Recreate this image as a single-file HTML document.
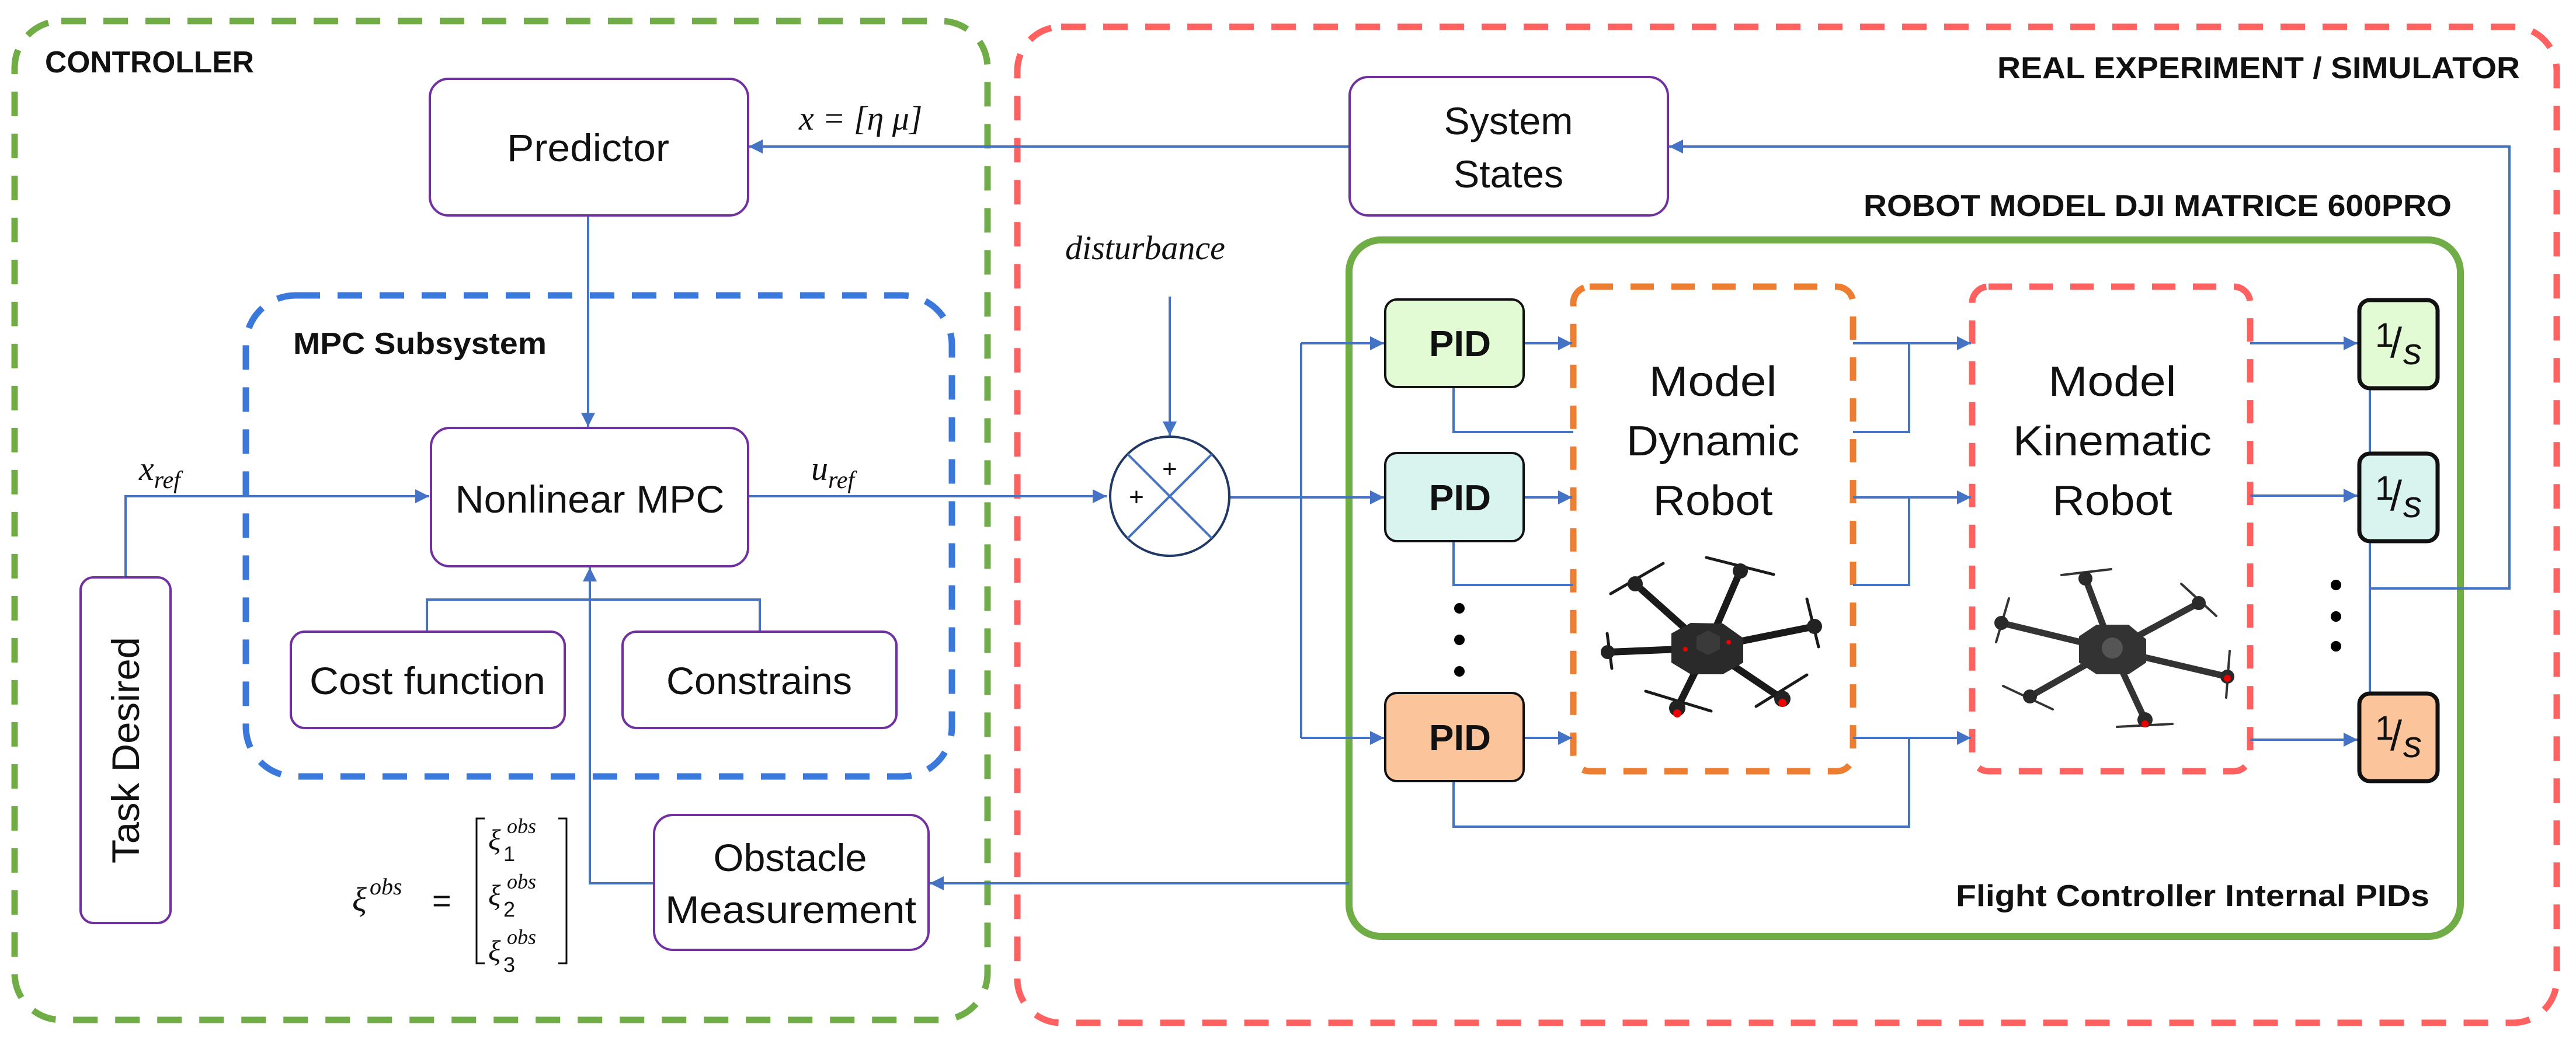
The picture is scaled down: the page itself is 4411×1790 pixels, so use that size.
<!DOCTYPE html>
<html><head><meta charset="utf-8"><style>
html,body{margin:0;padding:0;background:#fff;}
svg{display:block;}
text{font-family:"Liberation Sans",sans-serif;}
.m{font-family:"Liberation Serif",serif;font-style:italic;}
</style></head><body>
<svg width="4411" height="1790" viewBox="0 0 4411 1790" xmlns="http://www.w3.org/2000/svg">
<defs>
<marker id="b" viewBox="0 0 10 10" refX="10" refY="5" markerWidth="26" markerHeight="24" orient="auto" markerUnits="userSpaceOnUse"><path d="M0,0 L10,5 L0,10 z" fill="#4472c4"/></marker>
</defs>

<!-- big containers -->
<rect x="25" y="36" width="1666" height="1711" rx="80" fill="none" stroke="#70ad47" stroke-width="11" stroke-dasharray="42 30"/>
<rect x="1742" y="46" width="2636" height="1706" rx="75" fill="none" stroke="#ff6161" stroke-width="11" stroke-dasharray="42 30"/>
<rect x="2310" y="411" width="1903" height="1193" rx="55" fill="none" stroke="#70ad47" stroke-width="12"/>
<rect x="421" y="506" width="1209" height="824" rx="85" fill="none" stroke="#3b78dc" stroke-width="11" stroke-dasharray="42 30"/>
<rect x="2694" y="491" width="479" height="830" rx="28" fill="none" stroke="#ed7d31" stroke-width="11" stroke-dasharray="40 30"/>
<rect x="3377" y="491" width="476" height="830" rx="28" fill="none" stroke="#ff6161" stroke-width="11" stroke-dasharray="40 30"/>

<!-- titles -->
<g font-weight="bold" font-size="52" fill="#111">
<text x="77" y="124" textLength="358" lengthAdjust="spacingAndGlyphs">CONTROLLER</text>
<text x="502" y="606" textLength="434" lengthAdjust="spacingAndGlyphs">MPC Subsystem</text>
<text x="3420" y="134" textLength="895" lengthAdjust="spacingAndGlyphs">REAL EXPERIMENT / SIMULATOR</text>
<text x="3191" y="370" textLength="1007" lengthAdjust="spacingAndGlyphs">ROBOT MODEL DJI MATRICE 600PRO</text>
<text x="3349" y="1552" textLength="811" lengthAdjust="spacingAndGlyphs">Flight Controller Internal PIDs</text>
</g>

<!-- connectors -->
<g fill="none" stroke="#4472c4" stroke-width="4">
<path d="M2310,251 H1282" marker-end="url(#b)"/>
<path d="M4058,1008 H4297 V251 H2858" marker-end="url(#b)"/>
<path d="M1007,369 V731" marker-end="url(#b)"/>
<path d="M215,989 V850 H735" marker-end="url(#b)"/>
<path d="M1281,850 H1895" marker-end="url(#b)"/>
<path d="M2003,508 V746" marker-end="url(#b)"/>
<path d="M731,1082 V1027 H1301 V1082"/>
<path d="M1120,1513 H1010 V972" marker-end="url(#b)"/>
<path d="M2310,1513 H1592" marker-end="url(#b)"/>
<path d="M2105,852 H2228"/>
<path d="M2228,588 V1264"/>
<path d="M2228,588 H2370" marker-end="url(#b)"/>
<path d="M2228,852 H2370" marker-end="url(#b)"/>
<path d="M2228,1264 H2370" marker-end="url(#b)"/>
<path d="M2609,588 H2692" marker-end="url(#b)"/>
<path d="M2609,852 H2692" marker-end="url(#b)"/>
<path d="M2609,1264 H2692" marker-end="url(#b)"/>
<path d="M2489,663 V740 H2694"/>
<path d="M2489,927 V1002 H2694"/>
<path d="M2489,1338 V1416 H3269 V1264"/>
<path d="M3173,588 H3375" marker-end="url(#b)"/>
<path d="M3173,740 H3269 V588"/>
<path d="M3173,852 H3375" marker-end="url(#b)"/>
<path d="M3173,1002 H3269 V852"/>
<path d="M3173,1264 H3375" marker-end="url(#b)"/>
<path d="M3853,588 H4037" marker-end="url(#b)"/>
<path d="M3853,849 H4037" marker-end="url(#b)"/>
<path d="M3853,1267 H4037" marker-end="url(#b)"/>
<path d="M4058,665 V776 M4058,927 V1187"/>
</g>

<!-- purple boxes -->
<g fill="#fff" stroke="#7030a0" stroke-width="4">
<rect x="736" y="135" width="545" height="234" rx="32"/>
<rect x="2311" y="132" width="545" height="237" rx="32"/>
<rect x="738" y="733" width="543" height="237" rx="32"/>
<rect x="498" y="1082" width="469" height="165" rx="24"/>
<rect x="1066" y="1082" width="469" height="165" rx="24"/>
<rect x="1120" y="1396" width="470" height="231" rx="32"/>
<rect x="138" y="989" width="154" height="592" rx="22"/>
</g>
<g font-size="66" fill="#111" text-anchor="middle">
<text x="1007" y="276" textLength="278" lengthAdjust="spacingAndGlyphs">Predictor</text>
<text x="1010" y="878" textLength="461" lengthAdjust="spacingAndGlyphs">Nonlinear MPC</text>
<text x="732" y="1189" textLength="404" lengthAdjust="spacingAndGlyphs">Cost function</text>
<text x="1300" y="1189" textLength="318" lengthAdjust="spacingAndGlyphs">Constrains</text>
<text x="1353" y="1492" textLength="263" lengthAdjust="spacingAndGlyphs">Obstacle</text>
<text x="1354" y="1581" textLength="430" lengthAdjust="spacingAndGlyphs">Measurement</text>
<text x="2583" y="230" textLength="221" lengthAdjust="spacingAndGlyphs">System</text>
<text x="2583" y="321" textLength="188" lengthAdjust="spacingAndGlyphs">States</text>
<text transform="translate(238,1285) rotate(-90)" textLength="388" lengthAdjust="spacingAndGlyphs">Task Desired</text>
<text x="2933" y="678" font-size="72" textLength="219" lengthAdjust="spacingAndGlyphs">Model</text>
<text x="2933" y="780" font-size="72" textLength="296" lengthAdjust="spacingAndGlyphs">Dynamic</text>
<text x="2933" y="882" font-size="72" textLength="205" lengthAdjust="spacingAndGlyphs">Robot</text>
<text x="3617" y="678" font-size="72" textLength="219" lengthAdjust="spacingAndGlyphs">Model</text>
<text x="3617" y="780" font-size="72" textLength="340" lengthAdjust="spacingAndGlyphs">Kinematic</text>
<text x="3617" y="882" font-size="72" textLength="205" lengthAdjust="spacingAndGlyphs">Robot</text>
</g>

<!-- math labels -->
<g fill="#111">
<text class="m" x="1368" y="222" font-size="58">x  =  [η μ]</text>
<text class="m" x="1824" y="444" font-size="58">disturbance</text>
<text class="m" x="238" y="822" font-size="58">x<tspan font-size="42" dy="14">ref</tspan></text>
<text class="m" x="1389" y="822" font-size="58">u<tspan font-size="42" dy="14">ref</tspan></text>
<text class="m" x="603" y="1560" font-size="58">ξ</text>
<text class="m" x="633" y="1532" font-size="40">obs</text>
<text x="740" y="1562" font-size="56">=</text>
<text class="m" x="836" y="1455" font-size="50">ξ</text><text class="m" x="868" y="1427" font-size="36">obs</text><text x="862" y="1475" font-size="36">1</text>
<text class="m" x="836" y="1550" font-size="50">ξ</text><text class="m" x="868" y="1522" font-size="36">obs</text><text x="862" y="1570" font-size="36">2</text>
<text class="m" x="836" y="1645" font-size="50">ξ</text><text class="m" x="868" y="1617" font-size="36">obs</text><text x="862" y="1665" font-size="36">3</text>
</g>
<path d="M830,1402 H816 V1650 H830 M956,1402 H970 V1650 H956" fill="none" stroke="#111" stroke-width="3"/>

<!-- summing junction -->
<circle cx="2003" cy="850" r="102" fill="#fff" stroke="#203864" stroke-width="4"/>
<path d="M1931,778 L2075,922 M2075,778 L1931,922" stroke="#4472c4" stroke-width="4"/>
<text x="2003" y="818" font-size="44" text-anchor="middle" fill="#111">+</text>
<text x="1946" y="866" font-size="44" text-anchor="middle" fill="#111">+</text>

<!-- PID boxes -->
<g stroke="#111" stroke-width="4">
<rect x="2372" y="513" width="237" height="150" rx="20" fill="#e2fbd4"/>
<rect x="2372" y="776" width="237" height="151" rx="20" fill="#d9f3ee"/>
<rect x="2372" y="1187" width="237" height="151" rx="20" fill="#fcc49a"/>
</g>
<g font-size="62" font-weight="bold" text-anchor="middle" fill="#111">
<text x="2500" y="610" textLength="106" lengthAdjust="spacingAndGlyphs">PID</text>
<text x="2500" y="874" textLength="106" lengthAdjust="spacingAndGlyphs">PID</text>
<text x="2500" y="1285" textLength="106" lengthAdjust="spacingAndGlyphs">PID</text>
</g>
<g fill="#000">
<circle cx="2499" cy="1042" r="9"/><circle cx="2499" cy="1096" r="9"/><circle cx="2499" cy="1150" r="9"/>
<circle cx="4000" cy="1002" r="9"/><circle cx="4000" cy="1056" r="9"/><circle cx="4000" cy="1107" r="9"/>
</g>

<!-- integrators -->
<g stroke="#111" stroke-width="7">
<rect x="4040" y="514" width="134" height="151" rx="18" fill="#e2fbd4"/>
<rect x="4040" y="777" width="134" height="150" rx="18" fill="#d9f3ee"/>
<rect x="4040" y="1188" width="134" height="150" rx="18" fill="#fcc49a"/>
</g>
<g fill="#111" font-family="Liberation Serif,serif">
<g transform="translate(4107,590)"><text x="-40" y="4" font-size="58">1</text><text x="-14" y="22" font-size="72">/</text><text x="8" y="34" font-size="64" font-style="italic">s</text></g>
<g transform="translate(4107,852)"><text x="-40" y="4" font-size="58">1</text><text x="-14" y="22" font-size="72">/</text><text x="8" y="34" font-size="64" font-style="italic">s</text></g>
<g transform="translate(4107,1263)"><text x="-40" y="4" font-size="58">1</text><text x="-14" y="22" font-size="72">/</text><text x="8" y="34" font-size="64" font-style="italic">s</text></g>
</g>

<!-- drone 1 -->
<g stroke="#1a1a1a" stroke-linecap="round">
<g stroke-width="12">
<path d="M2923,1110 L2800,1000 M2923,1110 L2980,978 M2923,1110 L3107,1073 M2923,1110 L2755,1117 M2923,1110 L2872,1213 M2923,1110 L3052,1197"/>
</g>
<g stroke-width="5">
<path d="M2758,1017 L2848,965 M2922,955 L3037,984 M3094,1026 L3114,1108 M2752,1085 L2760,1145 M2818,1184 L2930,1218 M3007,1210 L3094,1156"/>
</g>
</g>
<g fill="#222">
<circle cx="2800" cy="1000" r="13"/><circle cx="2980" cy="978" r="13"/><circle cx="3107" cy="1073" r="13"/><circle cx="2753" cy="1117" r="12"/>
<circle cx="2872" cy="1213" r="14"/><circle cx="3052" cy="1197" r="14"/>
<polygon points="2862,1085 2895,1067 2950,1068 2985,1093 2985,1135 2950,1155 2895,1155 2862,1135" fill="#2a2a2a"/>
<polygon points="2905,1090 2925,1080 2945,1090 2945,1112 2925,1122 2905,1112" fill="#3a3a3a"/>
</g>
<g fill="#e00"><circle cx="2872" cy="1222" r="7"/><circle cx="3052" cy="1204" r="7"/><circle cx="2886" cy="1112" r="4"/><circle cx="2960" cy="1100" r="4"/></g>

<!-- drone 2 -->
<g stroke="#333" stroke-linecap="round">
<g stroke-width="11">
<path d="M3617,1113 L3571,991 M3617,1113 L3765,1033 M3617,1113 L3814,1159 M3617,1113 L3673,1233 M3617,1113 L3476,1193 M3617,1113 L3427,1067"/>
</g>
<g stroke-width="4">
<path d="M3530,985 L3615,975 M3735,1000 L3795,1055 M3818,1115 L3812,1195 M3625,1245 L3720,1240 M3430,1175 L3515,1215 M3440,1025 L3418,1100"/>
</g>
</g>
<g fill="#2a2a2a">
<circle cx="3571" cy="991" r="12"/><circle cx="3765" cy="1033" r="12"/><circle cx="3814" cy="1159" r="12"/><circle cx="3673" cy="1233" r="13"/><circle cx="3476" cy="1193" r="12"/><circle cx="3427" cy="1067" r="12"/>
<polygon points="3560,1090 3590,1070 3645,1070 3675,1095 3675,1135 3645,1155 3590,1155 3560,1135" fill="#333"/>
<circle cx="3617" cy="1110" r="18" fill="#555"/>
</g>
<g fill="#e00"><circle cx="3814" cy="1162" r="6"/><circle cx="3673" cy="1240" r="6"/></g>
</svg>
</body></html>
